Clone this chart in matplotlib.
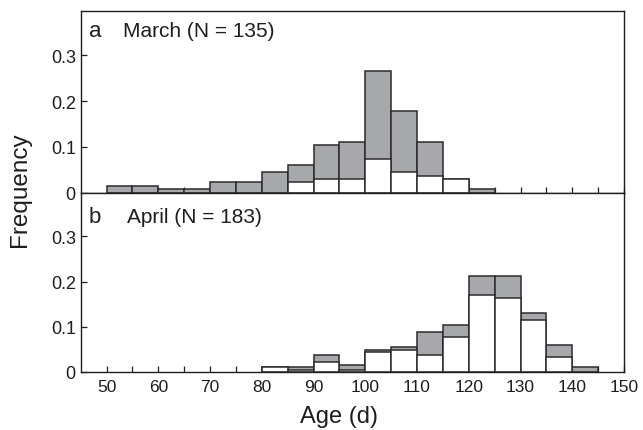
import matplotlib
matplotlib.use('Agg')
import matplotlib.pyplot as plt

plt.rcParams['font.family'] = ['Liberation Sans', 'DejaVu Sans']

# left edges of the 5-day age bins
bins = [50, 55, 60, 65, 70, 75, 80, 85, 90, 95, 100, 105, 110, 115, 120, 125, 130, 135, 140, 145]

# March (N = 135): total frequency (grey) and white sub-portion
march_total = [0.0148, 0.0148, 0.0074, 0.0074, 0.0222, 0.0222, 0.0444, 0.0593, 0.1037, 0.1111,
               0.2667, 0.1778, 0.1111, 0.0296, 0.0074, 0, 0, 0, 0, 0]
march_white = [0, 0, 0, 0, 0, 0, 0, 0.0222, 0.0296, 0.0296,
               0.0741, 0.0444, 0.0370, 0.0296, 0, 0, 0, 0, 0, 0]

# April (N = 183)
april_total = [0, 0, 0, 0, 0, 0, 0.0109, 0.0109, 0.0383, 0.0164,
               0.0492, 0.0546, 0.0874, 0.1038, 0.2131, 0.2131, 0.1311, 0.0601, 0.0109, 0]
april_white = [0, 0, 0, 0, 0, 0, 0.0109, 0.0055, 0.0219, 0.0055,
               0.0437, 0.0492, 0.0383, 0.0765, 0.1694, 0.1639, 0.1148, 0.0328, 0, 0]

panels = [('a', 'March (N = 135)', march_total, march_white),
          ('b', 'April (N = 183)', april_total, april_white)]

fig = plt.figure(figsize=(6.43, 4.31), dpi=100)
left, right = 80.7 / 643, 624 / 643
ax_top = fig.add_axes([left, 1 - 193.5 / 431, right - left, (193.5 - 12) / 431])
ax_bot = fig.add_axes([left, 1 - 373 / 431, right - left, (373 - 193.5) / 431])

grey = '#a7a8ab'
edge = '#2b2b2b'
ink = '#1e1e1e'
text_y = [0.862, 0.834]


def nonzero(xs, ys):
    pairs = [(x, y) for x, y in zip(xs, ys) if y > 0]
    return [p[0] for p in pairs], [p[1] for p in pairs]


for ax, (letter, label, tot, wht), ty in zip([ax_top, ax_bot], panels, text_y):
    x, y = nonzero(bins, tot)
    ax.bar(x, y, width=5, align='edge', color=grey, edgecolor=edge, linewidth=1.1, zorder=2)
    x, y = nonzero(bins, wht)
    ax.bar(x, y, width=5, align='edge', color='white', edgecolor=edge, linewidth=1.1, zorder=3)
    ax.set_xlim(45, 150)
    ax.set_ylim(0, 0.397)
    ax.set_yticks([0, 0.1, 0.2, 0.3])
    ax.set_yticklabels(['0', '0.1', '0.2', '0.3'])
    ax.set_xticks(range(50, 151, 10))
    ax.set_xticks(range(55, 150, 10), minor=True)
    ax.tick_params(which='both', direction='in', length=4.3, width=0.9, labelsize=12.5, pad=3, colors=ink)
    ax.tick_params(axis='y', pad=3.5, labelsize=13)
    for s in ax.spines.values():
        s.set_linewidth(1.0)
        s.set_color(ink)
        s.set_zorder(4)
    ax.text(0.015, ty, letter, transform=ax.transAxes, fontsize=16, va='baseline', color=ink)
    ax.text(0.078 if letter == 'a' else 0.085, ty, label, transform=ax.transAxes,
            fontsize=15, va='baseline', color=ink)

ax_top.tick_params(axis='x', labelbottom=False)
ax_bot.tick_params(axis='x', pad=5)

fig.text(20 / 643, 1 - 190 / 431, 'Frequency', rotation=90, fontsize=17.5, ha='center', va='center', color=ink)
fig.text(339 / 643, 1 - 417 / 431, 'Age (d)', fontsize=17, ha='center', va='center', color=ink)

fig.savefig('out.png', dpi=100)
